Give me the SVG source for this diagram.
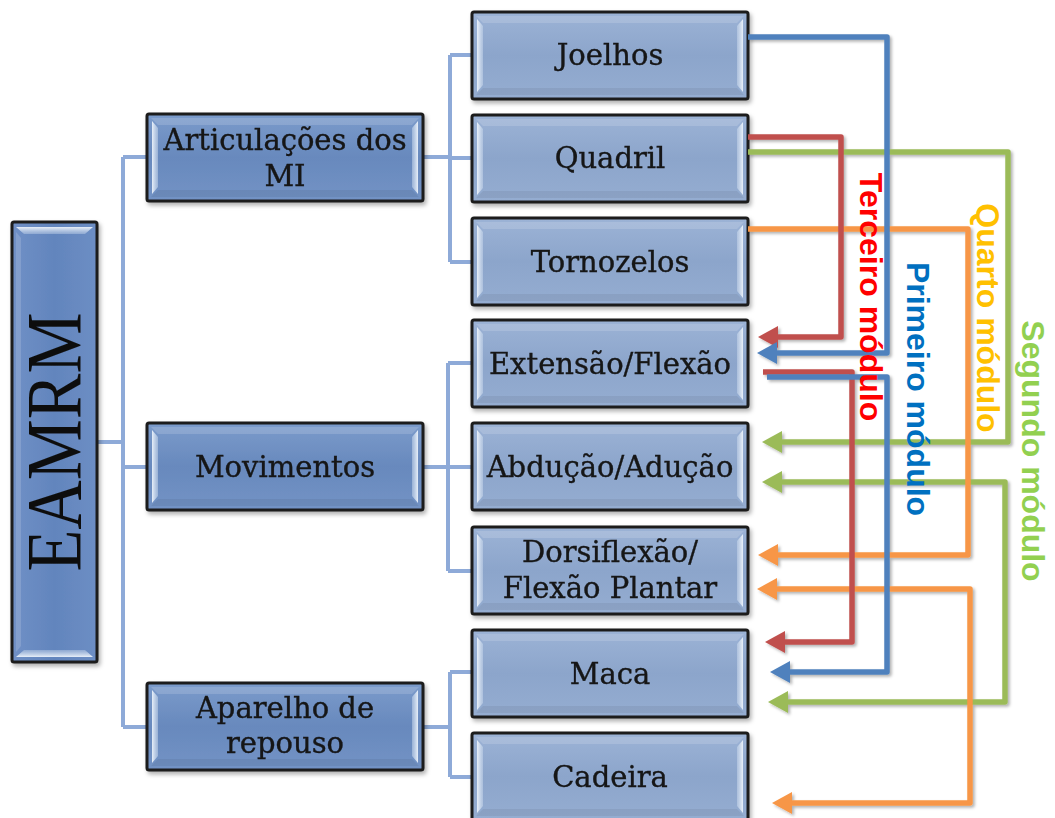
<svg xmlns="http://www.w3.org/2000/svg" xmlns:xlink="http://www.w3.org/1999/xlink" width="1055" height="818" viewBox="0 0 1055 818">
  <defs>
    <style>
      .box3 { fill: url(#g3); stroke: #1c1c1c; stroke-width: 3; }
      .box2 { fill: url(#g2); stroke: #1c1c1c; stroke-width: 3; }
      .boxr { fill: url(#gr); stroke: #1c1c1c; stroke-width: 3; }
      .lbl { font-family: "DejaVu Serif", "Liberation Serif", serif; font-size: 29px; fill: #141414; stroke: #141414; stroke-width: 0.35; text-anchor: middle; }
      .tree { fill: none; stroke: #8eaad8; stroke-width: 4; }
      .mod { fill: none; stroke-width: 5.5; stroke-linejoin: round; }
      .blue { stroke: #4f81bd; }
      .red { stroke: #c0504d; }
      .green { stroke: #9bbb59; }
      .orange { stroke: #f79646; }
      .mlab { font-family: "Liberation Sans", Arial, sans-serif; font-weight: bold; font-size: 32px; text-anchor: middle; }
    </style>
    <linearGradient id="g3" x1="0" y1="0" x2="0" y2="1">
      <stop offset="0" stop-color="#9cb3d6"/>
      <stop offset="0.5" stop-color="#8ca5cb"/>
      <stop offset="1" stop-color="#95add1"/>
    </linearGradient>
    <linearGradient id="g2" x1="0" y1="0" x2="0" y2="1">
      <stop offset="0" stop-color="#7b9bcb"/>
      <stop offset="0.5" stop-color="#6889bd"/>
      <stop offset="1" stop-color="#7393c5"/>
    </linearGradient>
    <linearGradient id="gr" x1="0" y1="0" x2="1" y2="0">
      <stop offset="0" stop-color="#7090c6"/>
      <stop offset="0.5" stop-color="#6285bd"/>
      <stop offset="1" stop-color="#6d8ec4"/>
    </linearGradient>
    <linearGradient id="hlL" x1="0" y1="0" x2="1" y2="0">
      <stop offset="0" stop-color="#eef4fb" stop-opacity="0.95"/>
      <stop offset="1" stop-color="#c9d8ec" stop-opacity="0.5"/>
    </linearGradient>
    <linearGradient id="hlR" x1="1" y1="0" x2="0" y2="0">
      <stop offset="0" stop-color="#eef4fb" stop-opacity="0.95"/>
      <stop offset="1" stop-color="#c9d8ec" stop-opacity="0.5"/>
    </linearGradient>
    <linearGradient id="hlT" x1="0" y1="0" x2="0" y2="1">
      <stop offset="0" stop-color="#eef4fb" stop-opacity="0.95"/>
      <stop offset="1" stop-color="#c9d8ec" stop-opacity="0.4"/>
    </linearGradient>
    <linearGradient id="hlB" x1="0" y1="1" x2="0" y2="0">
      <stop offset="0" stop-color="#eef4fb" stop-opacity="0.95"/>
      <stop offset="1" stop-color="#c9d8ec" stop-opacity="0.4"/>
    </linearGradient>
    <g id="bevel">
      <polygon points="4,4 272,4 265,11 11,11" fill="#ffffff" opacity="0.15"/>
      <polygon points="4,83 272,83 265,76 11,76" fill="#000000" opacity="0.06"/>
      <polygon points="5,7 11,14 11,73 5,80" fill="url(#hlL)"/>
      <polygon points="271,7 265,14 265,73 271,80" fill="url(#hlR)"/>
    </g>
    <filter id="sh" x="-10%" y="-10%" width="130%" height="130%">
      <feDropShadow dx="2" dy="3" stdDeviation="2" flood-color="#000" flood-opacity="0.3"/>
    </filter>
    <filter id="lsh" x="-10%" y="-10%" width="130%" height="130%">
      <feDropShadow dx="2" dy="2" stdDeviation="1.5" flood-color="#000" flood-opacity="0.3"/>
    </filter>
    <marker id="ab" markerUnits="userSpaceOnUse" viewBox="0 0 20 22" markerWidth="20" markerHeight="22" refX="6" refY="11" orient="auto-start-reverse"><path d="M0,0 L20,11 L0,22 z" fill="#4f81bd"/></marker>
    <marker id="ar" markerUnits="userSpaceOnUse" viewBox="0 0 20 22" markerWidth="20" markerHeight="22" refX="6" refY="11" orient="auto-start-reverse"><path d="M0,0 L20,11 L0,22 z" fill="#c0504d"/></marker>
    <marker id="ag" markerUnits="userSpaceOnUse" viewBox="0 0 20 22" markerWidth="20" markerHeight="22" refX="6" refY="11" orient="auto-start-reverse"><path d="M0,0 L20,11 L0,22 z" fill="#9bbb59"/></marker>
    <marker id="ao" markerUnits="userSpaceOnUse" viewBox="0 0 20 22" markerWidth="20" markerHeight="22" refX="6" refY="11" orient="auto-start-reverse"><path d="M0,0 L20,11 L0,22 z" fill="#f79646"/></marker>
  </defs>

  <rect width="1055" height="818" fill="#ffffff"/>

  <!-- tree connectors -->
  <g id="tree-connectors" class="tree">
    <path d="M97,442 H123"/>
    <path d="M123,157 V727"/>
    <path d="M123,157 H147 M123,467 H147 M123,727 H147"/>
    <path d="M423,157 H450 M450,55 V262 M450,55 H472 M450,158 H472 M450,262 H472"/>
    <path d="M423,467 H448 M448,363 V571 M448,363 H472 M448,467 H472 M448,571 H472"/>
    <path d="M423,727 H450 M450,672 V777 M450,672 H472 M450,777 H472"/>
  </g>

  <!-- nodes -->
  <g id="node-eamrm" filter="url(#sh)">
    <rect class="boxr" x="12" y="222" width="85" height="440" rx="2"/>
    <polygon points="16,227 93,227 85,234 24,234" fill="url(#hlT)"/>
    <polygon points="16,657 93,657 85,650 24,650" fill="url(#hlB)"/>
    <polygon points="16,232 21,238 21,646 16,652" fill="#ffffff" opacity="0.15"/>
    <text transform="translate(80,442) rotate(-90)" font-family="'Liberation Serif', 'Times New Roman', serif" font-size="78" fill="#111" text-anchor="middle" textLength="259" lengthAdjust="spacingAndGlyphs">EAMRM</text>
  </g>

  <g id="node-articulacoes" filter="url(#sh)">
    <rect class="box2" x="147" y="114" width="276" height="87" rx="2"/>
    <use xlink:href="#bevel" href="#bevel" transform="translate(147,114)"/>
    <text class="lbl" x="285" y="150">Articulações dos</text>
    <text class="lbl" x="285" y="186">MI</text>
  </g>
  <g id="node-movimentos" filter="url(#sh)">
    <rect class="box2" x="147" y="423" width="276" height="87" rx="2"/>
    <use xlink:href="#bevel" href="#bevel" transform="translate(147,423)"/>
    <text class="lbl" x="285" y="477">Movimentos</text>
  </g>
  <g id="node-aparelho" filter="url(#sh)">
    <rect class="box2" x="147" y="683" width="276" height="87" rx="2"/>
    <use xlink:href="#bevel" href="#bevel" transform="translate(147,683)"/>
    <text class="lbl" x="285" y="718">Aparelho de</text>
    <text class="lbl" x="285" y="753">repouso</text>
  </g>

  <g id="node-joelhos" filter="url(#sh)">
    <rect class="box3" x="472" y="12" width="276" height="87" rx="2"/>
    <use xlink:href="#bevel" href="#bevel" transform="translate(472,12)"/>
    <text class="lbl" x="610" y="65">Joelhos</text>
  </g>
  <g id="node-quadril" filter="url(#sh)">
    <rect class="box3" x="472" y="115" width="276" height="87" rx="2"/>
    <use xlink:href="#bevel" href="#bevel" transform="translate(472,115)"/>
    <text class="lbl" x="610" y="168">Quadril</text>
  </g>
  <g id="node-tornozelos" filter="url(#sh)">
    <rect class="box3" x="472" y="218" width="276" height="87" rx="2"/>
    <use xlink:href="#bevel" href="#bevel" transform="translate(472,218)"/>
    <text class="lbl" x="610" y="272">Tornozelos</text>
  </g>
  <g id="node-extensao" filter="url(#sh)">
    <rect class="box3" x="472" y="320" width="276" height="87" rx="2"/>
    <use xlink:href="#bevel" href="#bevel" transform="translate(472,320)"/>
    <text class="lbl" x="610" y="374">Extensão/Flexão</text>
  </g>
  <g id="node-abducao" filter="url(#sh)">
    <rect class="box3" x="472" y="423" width="276" height="87" rx="2"/>
    <use xlink:href="#bevel" href="#bevel" transform="translate(472,423)"/>
    <text class="lbl" x="610" y="477">Abdução/Adução</text>
  </g>
  <g id="node-dorsiflexao" filter="url(#sh)">
    <rect class="box3" x="472" y="527" width="276" height="87" rx="2"/>
    <use xlink:href="#bevel" href="#bevel" transform="translate(472,527)"/>
    <text class="lbl" x="610" y="562">Dorsiflexão/</text>
    <text class="lbl" x="610" y="598">Flexão Plantar</text>
  </g>
  <g id="node-maca" filter="url(#sh)">
    <rect class="box3" x="472" y="630" width="276" height="87" rx="2"/>
    <use xlink:href="#bevel" href="#bevel" transform="translate(472,630)"/>
    <text class="lbl" x="610" y="684">Maca</text>
  </g>
  <g id="node-cadeira" filter="url(#sh)">
    <rect class="box3" x="472" y="733" width="276" height="87" rx="2"/>
    <use xlink:href="#bevel" href="#bevel" transform="translate(472,733)"/>
    <text class="lbl" x="610" y="787">Cadeira</text>
  </g>

  <!-- module connectors -->
  <g id="module-connectors" filter="url(#lsh)">
    <path class="mod green" d="M748,152 H1008 V442 H776" marker-end="url(#ag)"/>
    <path class="mod green" d="M776,482 H1005 V702 H782" marker-start="url(#ag)" marker-end="url(#ag)"/>
    <path class="mod orange" d="M748,229 H968 V555 H772" marker-end="url(#ao)"/>
    <path class="mod orange" d="M771,589 H970 V803 H786" marker-start="url(#ao)" marker-end="url(#ao)"/>
    <path class="mod red" d="M748,137 H841 V337 H772" marker-end="url(#ar)"/>
    <path class="mod red" d="M763,372 H852 V642 H779" marker-end="url(#ar)"/>
    <path class="mod blue" d="M748,37 H887 V353 H771" marker-end="url(#ab)"/>
    <path class="mod blue" d="M767,377 H887 V672 H784" marker-end="url(#ab)"/>
  </g>

  <!-- module labels -->
  <g id="module-labels">
    <text class="mlab" fill="#ff0000" transform="translate(860,297) rotate(90)">Terceiro módulo</text>
    <text class="mlab" fill="#0070c0" transform="translate(907,389) rotate(90)">Primeiro módulo</text>
    <text class="mlab" fill="#ffc000" transform="translate(977,318) rotate(90)">Quarto módulo</text>
    <text class="mlab" fill="#92d050" transform="translate(1022,451) rotate(90)">Segundo módulo</text>
  </g>
</svg>
